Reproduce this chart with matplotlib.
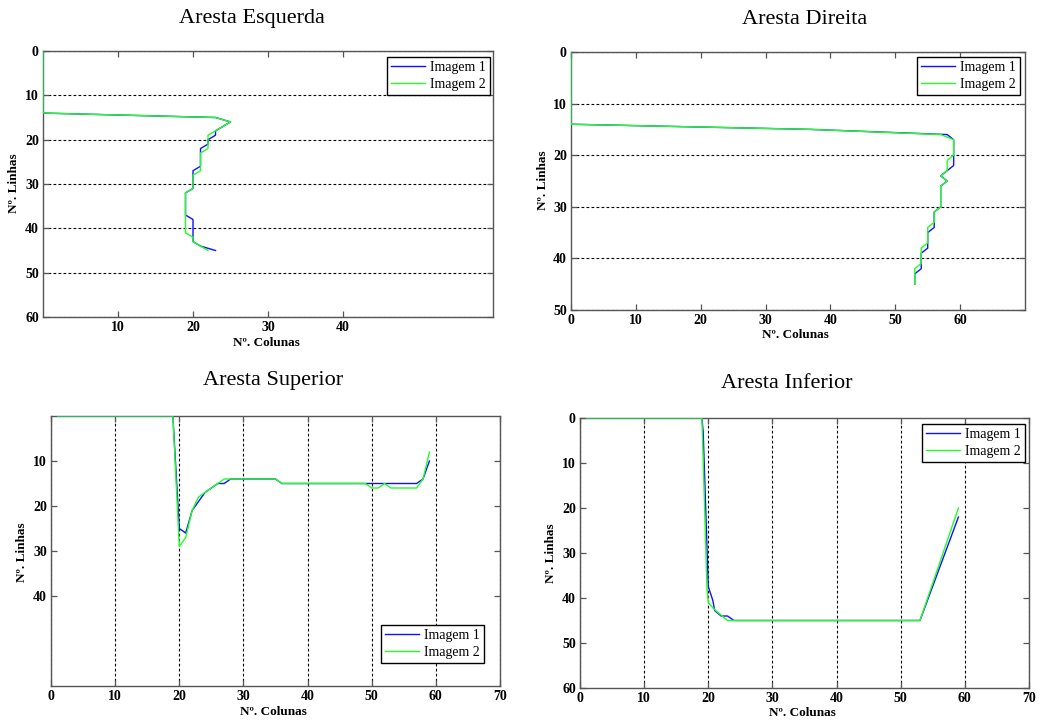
import matplotlib
matplotlib.use("Agg")
import matplotlib.pyplot as plt

# ---------------- data ----------------
# Left edge: one column per row (rows 0..45)
esq_linhas = list(range(46))
esq_img1 = [0] * 15 + [23, 25, 24, 23, 23, 22, 22, 21, 21, 21, 21, 21, 20, 20, 20,
                       20, 20, 19, 19, 19, 19, 19, 19, 20, 20, 20, 20, 20, 20, 21, 23]
esq_img2 = [0] * 15 + [23, 25, 24, 23, 22, 22, 22, 22, 21, 21, 21, 21, 21, 20, 20,
                       20, 20, 19, 19, 19, 19, 19, 19, 19, 19, 19, 19, 20, 20, 21, 22]

# Right edge: one column per row (rows 0..45)
dir_linhas = list(range(46))
dir_img1 = [0] * 15 + [37, 58, 59, 59, 59, 59, 59, 59, 58, 57, 58, 57, 57, 57, 57,
                       57, 56, 56, 56, 56, 55, 55, 55, 55, 54, 54, 54, 54, 53, 53, 53]
dir_img2 = [0] * 15 + [37, 57, 59, 59, 59, 59, 58, 58, 58, 57, 58, 57, 57, 57, 57,
                       57, 56, 56, 56, 55, 55, 55, 55, 54, 54, 54, 54, 53, 53, 53, 53]

# Top edge: one row per column (columns 1..59)
sup_colunas = list(range(1, 60))
sup_img1 = [0] * 19 + [25, 26, 21, 19, 17, 16, 15, 15] + [14] * 8 + [15] * 22 + [14, 10]
sup_img2 = [0] * 19 + [29, 27, 21, 18, 17, 16, 15, 14] + [14] * 8 + [15] * 14 + \
           [16, 16, 15, 16, 16, 16, 16, 16, 14, 8]

# Bottom edge: polyline vertices (column, row)
inf_col_img1 = [1, 19, 19.2, 20, 20.7, 21, 22, 23, 24, 53, 59]
inf_lin_img1 = [0, 0, 3, 37.5, 40.5, 42.8, 44, 44, 45, 45, 22]
inf_col_img2 = [1, 19, 19.05, 19.8, 20, 21, 23, 53, 59]
inf_lin_img2 = [0, 0, 2, 38, 41, 42.6, 45, 45, 20]

titulos = ["Aresta Esquerda", "Aresta Direita", "Aresta Superior", "Aresta Inferior"]
legendas = ["Imagem 1", "Imagem 2"]
xlabel = "N\u00ba. Colunas"
ylabel = "N\u00ba. Linhas"

# ---------------- style ----------------
plt.rcParams["font.family"] = ["Liberation Serif", "DejaVu Serif"]
AZUL = "#1010ff"
VERDE = "#22ff22"
SPINE = "#555555"

W, H = 1039, 725
fig = plt.figure(figsize=(W / 100, H / 100), dpi=100)


def box(l, t, r, b):
    """Axes rectangle from pixel edges (left, top, right, bottom)."""
    return [l / W, 1 - b / H, (r - l) / W, (b - t) / H]


def fx(x):
    return x / W


def fy(y):
    return 1 - y / H


def style_axes(ax):
    for s in ax.spines.values():
        s.set_color(SPINE)
        s.set_linewidth(1.0)
    ax.tick_params(direction="in", top=True, right=True, length=4,
                   width=0.9, color=SPINE, labelsize=10, pad=3)
    for lbl in ax.get_xticklabels() + ax.get_yticklabels():
        lbl.set_fontweight("bold")


def grid(ax, axis):
    ax.grid(True, axis=axis, color="black", linestyle=(0, (2.5, 2)), linewidth=0.8)
    ax.set_axisbelow(True)


def draw(ax, x1, y1, x2, y2):
    l1, = ax.plot(x1, y1, color=AZUL, lw=1.0, zorder=3)
    l2, = ax.plot(x2, y2, color=VERDE, lw=1.0, zorder=4)
    return [l1, l2]


def legend(ax, handles, x, y):
    leg = ax.legend(handles, legendas, loc="upper left",
                    bbox_to_anchor=(fx(x), fy(y)), bbox_transform=fig.transFigure,
                    borderaxespad=0, fancybox=False, framealpha=1,
                    edgecolor="black", fontsize=10, handlelength=2.4,
                    borderpad=0.3, labelspacing=0.25, handletextpad=0.4)
    leg.get_frame().set_linewidth(1.0)
    leg.set_zorder(10)


# Aresta Esquerda
ax1 = fig.add_axes(box(43, 51, 493, 317))
h = draw(ax1, esq_img1, esq_linhas, esq_img2, esq_linhas)
ax1.set_xlim(0, 60)
ax1.set_ylim(60, 0)
ax1.set_xticks([10, 20, 30, 40])
ax1.set_yticks(range(0, 61, 10))
grid(ax1, "y")
style_axes(ax1)
legend(ax1, h, 387, 57)

# Aresta Direita
ax2 = fig.add_axes(box(571, 52, 1025, 310))
h = draw(ax2, dir_img1, dir_linhas, dir_img2, dir_linhas)
ax2.set_xlim(0, 70)
ax2.set_ylim(50, 0)
ax2.set_xticks(range(0, 61, 10))
ax2.set_yticks(range(0, 51, 10))
grid(ax2, "y")
style_axes(ax2)
legend(ax2, h, 917, 57)

# Aresta Superior
ax3 = fig.add_axes(box(51, 416, 500, 686))
h = draw(ax3, sup_colunas, sup_img1, sup_colunas, sup_img2)
ax3.set_xlim(0, 70)
ax3.set_ylim(60, 0)
ax3.set_xticks(range(0, 71, 10))
ax3.set_yticks([10, 20, 30, 40])
grid(ax3, "x")
style_axes(ax3)
legend(ax3, h, 381, 625)

# Aresta Inferior
ax4 = fig.add_axes(box(580, 418, 1029, 688))
h = draw(ax4, inf_col_img1, inf_lin_img1, inf_col_img2, inf_lin_img2)
ax4.set_xlim(0, 70)
ax4.set_ylim(60, 0)
ax4.set_xticks(range(0, 71, 10))
ax4.set_yticks(range(0, 61, 10))
grid(ax4, "x")
style_axes(ax4)
legend(ax4, h, 922, 424)

# Titles and axis labels placed in figure pixels
for txt, (x, y) in zip(titulos, [(252, 18), (805, 20), (273, 380), (787, 383)]):
    fig.text(fx(x), fy(y), txt, ha="center", va="center", fontsize=16)

for (x, y) in [(266, 343), (795, 335), (273, 712), (802, 713)]:
    fig.text(fx(x), fy(y), xlabel, ha="center", va="center", fontsize=9.5,
             fontweight="bold")
for (x, y) in [(14, 183), (543, 180), (22, 552), (551, 553)]:
    fig.text(fx(x), fy(y), ylabel, ha="center", va="center", fontsize=9.5,
             fontweight="bold", rotation=90)

fig.savefig("out.png", dpi=100, facecolor="white")
